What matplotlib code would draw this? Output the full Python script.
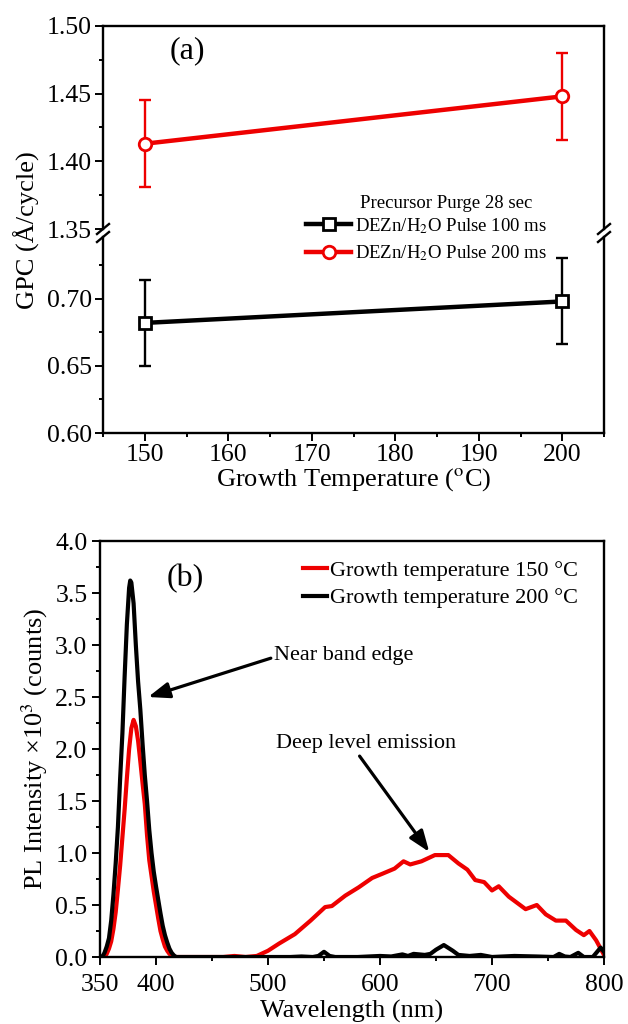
import numpy as np
import matplotlib
matplotlib.use("Agg")
import matplotlib.pyplot as plt
from matplotlib.lines import Line2D

plt.rcParams['font.family'] = ['Liberation Serif', 'DejaVu Serif']
plt.rcParams['mathtext.fontset'] = 'stix'

# ---- panel (a) data ----
temps = [150, 200]
gpc_100ms = [0.682, 0.698]
err_100ms = [0.032, 0.032]
gpc_200ms = [1.413, 1.448]
err_200ms = [0.032, 0.032]
label_100 = "DEZn/H$_2$O Pulse 100 ms"
label_200 = "DEZn/H$_2$O Pulse 200 ms"

# ---- panel (b) data ----
wl_200C = [350, 352, 354, 356, 358, 360, 362, 364, 366, 368, 370, 372, 374, 376, 377, 378,
           380, 382, 384, 386, 388, 390, 392, 394, 396, 398, 400, 402, 404, 406, 408, 410,
           412, 414, 416, 418, 430, 450, 470, 500, 520, 530, 540, 545, 550, 555, 560, 580,
           600, 610, 620, 625, 630, 640, 645, 650, 657, 665, 670, 680, 690, 700, 720, 740,
           755, 760, 765, 770, 777, 782, 790, 797, 800]
pl_200C = [0.0, 0.0, 0.04, 0.10, 0.18, 0.35, 0.60, 0.90, 1.25, 1.72, 2.15, 2.70, 3.20, 3.55,
           3.62, 3.60, 3.40, 3.00, 2.65, 2.38, 2.05, 1.75, 1.50, 1.22, 1.00, 0.82, 0.68, 0.55,
           0.42, 0.30, 0.21, 0.14, 0.08, 0.04, 0.015, 0.0, 0.0, 0.0, 0.0, 0.0, 0.0, 0.005, 0.0,
           0.01, 0.05, 0.01, 0.0, 0.0, 0.01, 0.005, 0.025, 0.01, 0.03, 0.02, 0.03, 0.07, 0.115,
           0.06, 0.02, 0.01, 0.02, 0.0, 0.01, 0.005, 0.0, 0.03, 0.005, 0.0, 0.04, 0.0, 0.0,
           0.09, 0.05]

wl_150C = [350, 354, 356, 358, 360, 362, 364, 366, 368, 370, 372, 374, 376, 378, 380, 382,
           384, 386, 388, 390, 392, 394, 396, 398, 400, 402, 404, 406, 408, 410, 412, 414,
           416, 420, 440, 460, 470, 480, 490, 500, 510, 524, 538, 551, 557, 569, 581, 593,
           602, 613, 621, 627, 637, 649, 661, 670, 678, 685, 693, 700, 706, 715, 730, 740,
           748, 757, 766, 775, 782, 787, 793, 797, 800]
pl_150C = [0.0, 0.0, 0.03, 0.08, 0.15, 0.27, 0.43, 0.65, 0.88, 1.15, 1.42, 1.72, 2.00, 2.20,
           2.28, 2.22, 2.08, 1.88, 1.67, 1.47, 1.17, 0.93, 0.78, 0.63, 0.50, 0.37, 0.25, 0.17,
           0.10, 0.06, 0.03, 0.01, 0.0, 0.0, 0.0, 0.0, 0.01, 0.0, 0.01, 0.06, 0.13, 0.22, 0.35,
           0.48, 0.49, 0.59, 0.67, 0.76, 0.80, 0.85, 0.92, 0.89, 0.92, 0.98, 0.98, 0.90, 0.84,
           0.74, 0.72, 0.64, 0.68, 0.58, 0.46, 0.50, 0.41, 0.35, 0.35, 0.26, 0.21, 0.25, 0.16,
           0.08, 0.02]

W, H = 628, 1024
fig = plt.figure(figsize=(W / 100, H / 100), dpi=100)

def fx(px):
    return px / W

def fy(py):
    return 1 - py / H

L, R = 103, 604
ax_hi = fig.add_axes([fx(L), fy(229), fx(R - L), fy(26) - fy(229)])
ax_lo = fig.add_axes([fx(L), fy(433), fx(R - L), fy(237) - fy(433)])

for ax in (ax_hi, ax_lo):
    ax.set_xlim(145, 205)
    for s in ax.spines.values():
        s.set_linewidth(1.7)
    ax.tick_params(which='both', direction='out', width=1.4, labelsize=18.5,
                   top=False, right=False, pad=2)
    ax.tick_params(which='major', length=6)
    ax.tick_params(which='minor', length=3)

ax_hi.set_ylim(1.35, 1.50)
ax_hi.set_yticks([1.35, 1.40, 1.45, 1.50])
ax_hi.set_yticks([1.375, 1.425, 1.475], minor=True)
ax_hi.spines['bottom'].set_visible(False)
ax_hi.tick_params(which='both', bottom=False, labelbottom=False)

ax_lo.set_ylim(0.60, 0.746)
ax_lo.set_yticks([0.60, 0.65, 0.70])
ax_lo.set_yticks([0.625, 0.675, 0.725], minor=True)
ax_lo.spines['top'].set_visible(False)
ax_lo.set_xticks([150, 160, 170, 180, 190, 200])
ax_lo.set_xticks([145, 155, 165, 175, 185, 195, 205], minor=True)
ax_lo.set_xlabel("Growth Temperature ($^{\\mathrm{o}}$C)", fontsize=19, labelpad=0)

for ax in (ax_hi, ax_lo):
    ax.yaxis.set_major_formatter(matplotlib.ticker.FormatStrFormatter('%.2f'))

ax_lo.errorbar(temps, gpc_100ms, yerr=err_100ms, fmt='none', ecolor='black',
               elinewidth=1.7, capsize=4, capthick=1.7, zorder=2)
ln100, = ax_lo.plot(temps, gpc_100ms, color='black', lw=3.2, marker='s', ms=8,
                    mfc='white', mec='black', mew=2, zorder=3, label=label_100)
ax_hi.errorbar(temps, gpc_200ms, yerr=err_200ms, fmt='none', ecolor='#ee0000',
               elinewidth=1.7, capsize=4, capthick=1.7, zorder=2)
ln200, = ax_hi.plot(temps, gpc_200ms, color='#ee0000', lw=3.2, marker='o', ms=9,
                    mfc='white', mec='#ee0000', mew=2, zorder=3, label=label_200)

ax_hi.text(0.168, 0.88, "(a)", transform=ax_hi.transAxes, fontsize=23,
           ha='center', va='center')

# axis break marks
for xb in (L, R):
    for yb in (229, 237):
        fig.add_artist(Line2D([fx(xb - 6), fx(xb + 6)], [fy(yb + 5), fy(yb - 5)],
                              color='black', lw=1.7))

fig.text(fx(446), fy(203), "Precursor Purge 28 sec", fontsize=13.5,
         ha='center', va='center')
fig.legend(handles=[ln100, ln200], loc='upper left', bbox_to_anchor=(fx(306), fy(216)),
           frameon=False, fontsize=13.5, handlelength=2.4, handletextpad=0.2,
           labelspacing=0.4, borderpad=0, borderaxespad=0)

fig.text(fx(27), fy(230), "GPC (Å/cycle)", rotation=90, fontsize=19,
         ha='center', va='center')

# ---- panel (b) ----
axb = fig.add_axes([fx(100), fy(957), fx(604 - 100), fy(541) - fy(957)])
axb.plot(wl_150C, pl_150C, color='#ee0000', lw=3, label="Growth temperature 150 °C")
axb.plot(wl_200C, pl_200C, color='black', lw=3, label="Growth temperature 200 °C")
axb.set_xlim(350, 800)
axb.set_ylim(0, 4.0)
axb.set_xticks([350, 400, 500, 600, 700, 800])
axb.set_xticks([450, 550, 650, 750], minor=True)
axb.set_yticks(np.arange(0, 4.01, 0.5))
axb.set_yticks(np.arange(0.25, 4.0, 0.5), minor=True)
axb.yaxis.set_major_formatter(matplotlib.ticker.FormatStrFormatter('%.1f'))
for s in axb.spines.values():
    s.set_linewidth(1.7)
axb.tick_params(which='both', direction='out', width=1.4, labelsize=18.5,
                top=False, right=False, pad=3)
axb.tick_params(axis='x', which='major', pad=6)
axb.tick_params(which='major', length=6)
axb.tick_params(which='minor', length=3)
axb.set_xlabel("Wavelength (nm)", fontsize=19, labelpad=3)
axb.set_ylabel("PL Intensity ×10$^3$ (counts)", fontsize=19, labelpad=4)
axb.legend(loc='upper right', bbox_to_anchor=(0.98, 0.99), frameon=False,
           fontsize=16, handlelength=1.1, handletextpad=0.15, labelspacing=0.3,
           borderpad=0.2)
axb.text(0.169, 0.91, "(b)", transform=axb.transAxes, fontsize=23,
         ha='center', va='center')

arrow = dict(arrowstyle='-|>,head_length=0.8,head_width=0.3', color='black',
             lw=2.3, shrinkA=0, shrinkB=0)
axb.annotate("Near band edge", xy=(393, 2.5), xytext=(505, 2.9), fontsize=16,
             ha='left', va='center', arrowprops=dict(arrow, relpos=(0, 0.4)))
axb.annotate("Deep level emission", xy=(644, 1.01), xytext=(588, 2.05), fontsize=16,
             ha='center', va='center', arrowprops=dict(arrow, relpos=(0.45, 0)))

fig.savefig("out.png", dpi=100)
